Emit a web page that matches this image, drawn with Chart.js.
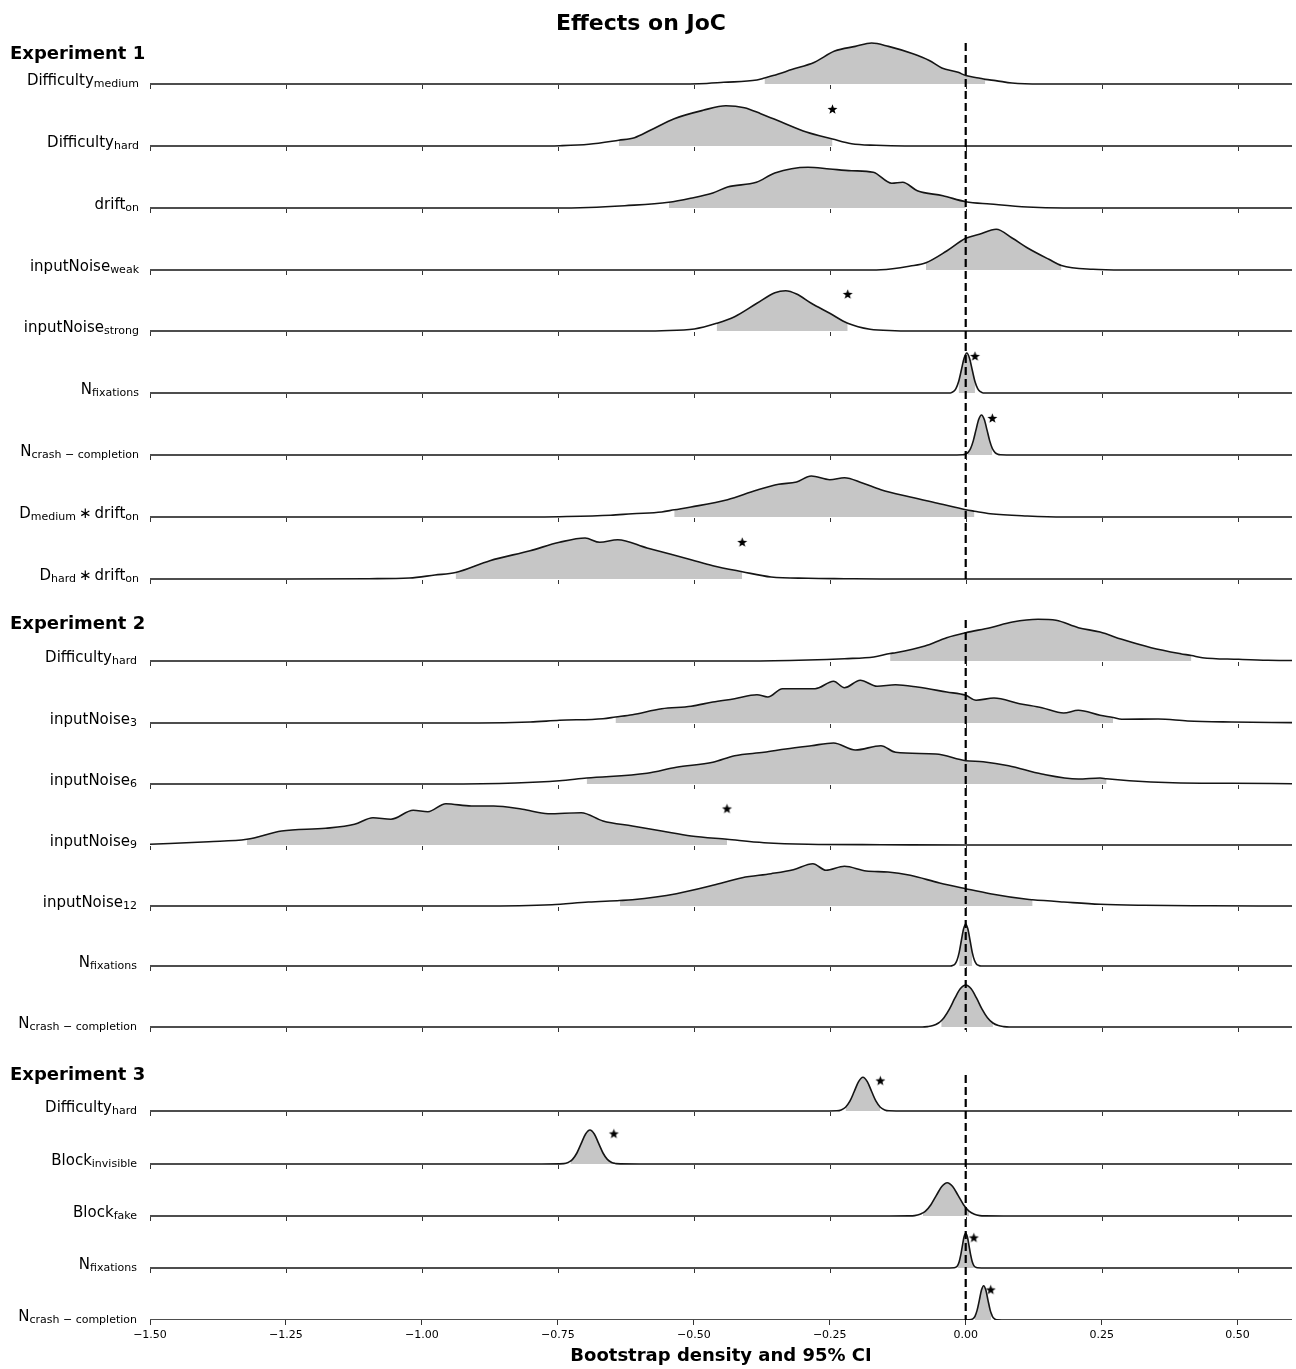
<!DOCTYPE html>
<html>
<head>
<meta charset="utf-8">
<script src="https://cdn.jsdelivr.net/npm/chart.js@4.4.1/dist/chart.umd.min.js"></script>
<style>
    html, body { margin: 0; padding: 0; background: #fff; }
    #wrap { width: 1296px; height: 1369px; position: relative; }
</style>
</head>
<body>
<div id="wrap"><canvas id="ridge"></canvas></div>
<script>
// x axis ticks
const xTicks = [-1.5, -1.25, -1.0, -0.75, -0.5, -0.25, 0.0, 0.25, 0.5];

// row labels: even parts normal text, odd parts subscript
const rowLabels = [
    ['Difficulty', 'medium'], ['Difficulty', 'hard'], ['drift', 'on'],
    ['inputNoise', 'weak'], ['inputNoise', 'strong'], ['N', 'fixations'],
    ['N', 'crash \u2212 completion'], ['D', 'medium', '\u2009\u2217\u2009drift', 'on'], ['D', 'hard', '\u2009\u2217\u2009drift', 'on'],
    ['Difficulty', 'hard'], ['inputNoise', '3'], ['inputNoise', '6'], ['inputNoise', '9'],
    ['inputNoise', '12'], ['N', 'fixations'], ['N', 'crash \u2212 completion'],
    ['Difficulty', 'hard'], ['Block', 'invisible'], ['Block', 'fake'], ['N', 'fixations'],
    ['N', 'crash \u2212 completion']
];
const experiments = ['Experiment 1', 'Experiment 2', 'Experiment 3'];
const rowsPerExperiment = [9, 7, 5];

// bootstrap density, [effect, density]
const dens1DiffMedium = [[-0.58,0],[-0.49,0.3],[-0.445,1.7],[-0.384,4],[-0.370,6],[-0.354,8.4],[-0.32,14.4],[-0.278,21.8],[-0.241,32.9],[-0.203,37.6],[-0.173,41],[-0.142,37.6],[-0.097,30.2],[-0.067,23.5],[-0.044,16.1],[-0.014,11.7],[0,8.4],[0.024,6],[0.036,4.6],[0.055,3.4],[0.085,1],[0.138,0]];
const dens1DiffHard = [[-0.80,0],[-0.746,0.3],[-0.693,1.7],[-0.638,5.8],[-0.609,8.3],[-0.58,15.7],[-0.536,27.3],[-0.483,35.7],[-0.441,40.3],[-0.407,38.3],[-0.377,32.3],[-0.339,24],[-0.293,14],[-0.245,7],[-0.21,2.3],[-0.165,0.7],[-0.112,0]];
const dens1Drift = [[-0.76,0],[-0.694,0.5],[-0.627,2.3],[-0.546,5.7],[-0.506,9.7],[-0.465,15],[-0.438,21],[-0.385,25.7],[-0.351,35],[-0.29,40.7],[-0.25,39],[-0.21,37.3],[-0.17,35.7],[-0.136,24.7],[-0.116,25.7],[-0.089,17.3],[-0.042,12.3],[0,6.3],[0.045,4],[0.113,1],[0.18,0]];
const dens1NoiseWeak = [[-0.2,0],[-0.156,0.3],[-0.102,4],[-0.073,7.3],[-0.035,19],[0,31.7],[0.025,35.7],[0.056,40.7],[0.086,31.7],[0.113,22.3],[0.153,10.7],[0.176,4.6],[0.234,0.7],[0.29,0]];
const dens1NoiseStrong = [[-0.62,0],[-0.559,0.3],[-0.499,2],[-0.458,7.7],[-0.425,14.3],[-0.384,27.7],[-0.351,38.3],[-0.331,40.3],[-0.311,37],[-0.284,27.7],[-0.25,17.7],[-0.217,7.7],[-0.176,1.7],[-0.13,0.3],[-0.076,0]];
const dens1Fix = [[-0.05,0],[-0.028,0],[-0.023,1.3],[-0.018,4.4],[-0.013,11.5],[-0.008,23],[-0.003,34.8],[0.002,40],[0.007,34.8],[0.012,23],[0.017,11.5],[0.022,4.4],[0.027,1.3],[0.032,0],[0.05,0]];
const dens1Crash = [[-0.03,0],[-0.006,0.2],[-0.001,0.7],[0.004,2.4],[0.009,6.5],[0.014,14.4],[0.019,25.4],[0.024,35.7],[0.029,40],[0.034,35.7],[0.039,25.4],[0.044,14.4],[0.049,6.5],[0.054,2.4],[0.059,0.7],[0.064,0.2],[0.09,0]];
const dens1MedDrift = [[-0.80,0],[-0.747,0.3],[-0.653,1.7],[-0.613,3.3],[-0.559,5],[-0.536,7.2],[-0.505,10],[-0.438,17.3],[-0.385,26.7],[-0.344,32.7],[-0.311,35],[-0.284,41],[-0.25,37.3],[-0.223,39.3],[-0.19,34],[-0.156,27.3],[-0.102,20],[-0.048,13.3],[0,7.3],[0.016,5.8],[0.045,3.3],[0.113,1],[0.18,0]];
const dens1HardDrift = [[-1.26,0],[-1.097,0.3],[-1.023,1],[-0.976,4],[-0.938,6.5],[-0.875,18.3],[-0.801,28.3],[-0.747,36.7],[-0.70,41],[-0.673,36.7],[-0.64,39.3],[-0.586,31],[-0.505,19.3],[-0.465,13.3],[-0.411,7.3],[-0.358,2],[-0.29,0.7],[-0.223,0.3],[-0.156,0]];
const dens2DiffHard = [[-0.40,0],[-0.29,1],[-0.223,2.3],[-0.169,4],[-0.139,7.5],[-0.129,8.3],[-0.075,15],[-0.035,23.3],[0,28.3],[0.045,33.3],[0.086,39],[0.133,41.7],[0.166,40.7],[0.207,33.3],[0.247,29],[0.287,21.7],[0.341,13.3],[0.395,7.3],[0.415,5.5],[0.435,3.3],[0.502,1.7],[0.556,0.7],[0.6,0.5]];
const dens2Noise3 = [[-0.895,0],[-0.801,1],[-0.747,2.7],[-0.667,4.3],[-0.644,6],[-0.613,8.3],[-0.559,14.3],[-0.505,16.7],[-0.465,21],[-0.425,24.3],[-0.384,28.3],[-0.364,26],[-0.337,34.3],[-0.277,34.3],[-0.243,41.7],[-0.223,35.3],[-0.194,42.7],[-0.163,36.7],[-0.129,38.3],[-0.089,36],[-0.035,31],[0,27.7],[0.019,22.7],[0.052,25],[0.099,19.3],[0.14,15.3],[0.18,10],[0.207,12.7],[0.247,7.7],[0.271,5.5],[0.287,3.7],[0.354,4],[0.408,2],[0.489,1],[0.6,0.4]];
const dens2Noise6 = [[-0.962,0],[-0.828,1],[-0.747,3.3],[-0.697,6],[-0.586,10.7],[-0.532,16.7],[-0.465,21.7],[-0.425,28.3],[-0.371,31.7],[-0.331,35],[-0.284,38.3],[-0.243,41],[-0.203,34],[-0.156,38.3],[-0.129,31.7],[-0.055,30],[0,23.3],[0.032,22.3],[0.079,18.3],[0.14,10],[0.207,5],[0.247,6],[0.259,5.2],[0.301,3.3],[0.381,1.3],[0.489,0.7],[0.6,0.3]];
const dens2Noise9 = [[-1.5,0.7],[-1.392,3.3],[-1.322,5.7],[-1.258,14],[-1.177,16.7],[-1.124,20.7],[-1.09,27.3],[-1.057,25.7],[-1.016,34.7],[-0.989,33.3],[-0.956,41.3],[-0.909,39],[-0.868,39],[-0.815,35.7],[-0.768,31.3],[-0.707,32.3],[-0.667,24],[-0.613,19],[-0.559,14],[-0.505,9],[-0.439,5.7],[-0.371,2.3],[-0.29,0.7],[-0.156,0.3],[0,0]];
const dens2Noise12 = [[-0.895,0],[-0.761,1.3],[-0.694,4],[-0.636,5.5],[-0.613,6.3],[-0.532,12.3],[-0.465,20.7],[-0.411,28.3],[-0.358,32.3],[-0.317,36.3],[-0.281,42.3],[-0.257,35.7],[-0.223,39.7],[-0.183,35],[-0.143,34],[-0.102,30.7],[-0.048,23],[0,17.3],[0.045,12.3],[0.113,6.7],[0.123,6.2],[0.18,4],[0.247,1.7],[0.328,0.7],[0.45,0.2],[0.55,0]];
const dens2Fix = [[-0.05,0],[-0.028,0],[-0.024,0.5],[-0.02,1.8],[-0.016,5.7],[-0.012,13.6],[-0.008,25.5],[-0.004,37],[0,42],[0.004,37],[0.008,25.5],[0.012,13.6],[0.016,5.7],[0.02,1.8],[0.024,0.5],[0.028,0],[0.05,0]];
const dens2Crash = [[-0.1,0],[-0.08,0],[-0.07,0.4],[-0.06,1.4],[-0.05,4],[-0.045,6.2],[-0.04,9.3],[-0.03,17.9],[-0.02,28.8],[-0.01,38.2],[0,42],[0.01,38.2],[0.02,28.8],[0.03,17.9],[0.04,9.3],[0.05,4],[0.06,1.4],[0.07,0.4],[0.08,0],[0.1,0]];
const dens3DiffHard = [[-0.27,0],[-0.237,0.2],[-0.229,1.1],[-0.221,3.8],[-0.213,9.8],[-0.205,19.5],[-0.197,29.4],[-0.189,33.7],[-0.181,29.4],[-0.173,19.5],[-0.165,9.8],[-0.157,3.8],[-0.149,1.1],[-0.141,0.2],[-0.11,0]];
const dens3BlockInvisible = [[-0.78,0],[-0.739,0.4],[-0.731,1.5],[-0.727,2.8],[-0.723,4.6],[-0.715,11],[-0.707,20.6],[-0.699,30],[-0.691,34],[-0.683,30],[-0.675,20.6],[-0.667,11],[-0.659,4.6],[-0.651,1.5],[-0.647,0.9],[-0.643,0.4],[-0.6,0]];
const dens3BlockFake = [[-0.14,0],[-0.104,0.1],[-0.094,0.4],[-0.084,1.7],[-0.079,3.1],[-0.074,4.9],[-0.064,11.3],[-0.054,20.6],[-0.044,29.5],[-0.034,33.3],[-0.024,29.5],[-0.014,20.6],[-0.004,11.3],[0.006,4.9],[0.016,1.7],[0.026,0.4],[0.036,0.1],[0.07,0]];
const dens3Fix = [[-0.04,0],[-0.021,0.2],[-0.018,0.8],[-0.015,2.4],[-0.012,6.3],[-0.009,13.3],[-0.006,22.7],[-0.003,31.2],[0,34.7],[0.003,31.2],[0.006,22.7],[0.009,13.3],[0.012,6.3],[0.015,2.4],[0.018,0.8],[0.021,0.2],[0.04,0]];
const dens3Crash = [[-0.01,0],[0.005,0.2],[0.013,1.1],[0.017,3.7],[0.021,9.9],[0.025,19.7],[0.029,29.9],[0.033,34.3],[0.037,29.9],[0.041,19.7],[0.045,9.9],[0.047,6.6],[0.049,3.7],[0.053,1.1],[0.057,0.2],[0.08,0]];

const densities = [
    dens1DiffMedium, dens1DiffHard, dens1Drift, dens1NoiseWeak, dens1NoiseStrong, dens1Fix, dens1Crash, dens1MedDrift, dens1HardDrift,
    dens2DiffHard, dens2Noise3, dens2Noise6, dens2Noise9, dens2Noise12, dens2Fix, dens2Crash,
    dens3DiffHard, dens3BlockInvisible, dens3BlockFake, dens3Fix, dens3Crash
];

// 95% CI bounds per row
const ciLow = [-0.370, -0.638, -0.546, -0.073, -0.458, -0.013, 0.004, -0.536, -0.938,
    -0.139, -0.644, -0.697, -1.322, -0.636, -0.012, -0.045,
    -0.221, -0.727, -0.079, -0.015, 0.017];
const ciHigh = [0.036, -0.245, 0, 0.176, -0.217, 0.017, 0.049, 0.016, -0.411,
    0.415, 0.271, 0.259, -0.439, 0.123, 0.012, 0.05,
    -0.157, -0.647, 0.006, 0.015, 0.047];
// significance stars (effect value), null = none
const starAt = [null, -0.245, null, null, -0.217, 0.017, 0.049, null, -0.411,
    null, null, null, -0.439, null, null, null,
    -0.157, -0.647, null, 0.015, 0.046];

// ---- layout (pixels) ----
const AREA_BOTTOM = 1320;
const rowBasePx = [84, 146, 208, 270, 331, 393, 455, 517, 579,
    661, 723, 784, 845, 906, 966, 1027,
    1111, 1164, 1216, 1268, 1320];
const labelRight = [139, 137, 137];
const headerBaseline = [59, 629, 1080];
const zeroLineSpan = [[43, 582], [620, 1030], [1075, 1320]];
const starLift = [36.5, 36, 30];

const FONT = '"DejaVu Sans", sans-serif';
const toY = px => AREA_BOTTOM - px;

function expOfRow(i) {
    let acc = 0;
    for (let e = 0; e < rowsPerExperiment.length; e++) {
        acc += rowsPerExperiment[e];
        if (i < acc) return e;
    }
    return rowsPerExperiment.length - 1;
}

// filled five point star for the marker
function makeStar(r) {
    const c = document.createElement('canvas');
    const s = Math.ceil(r * 2 + 2);
    c.width = s; c.height = s;
    const g = c.getContext('2d');
    g.fillStyle = '#000';
    g.beginPath();
    for (let k = 0; k < 10; k++) {
        const rr = k % 2 ? r * 0.42 : r;
        const a = -Math.PI / 2 + k * Math.PI / 5;
        const px = s / 2 + rr * Math.cos(a), py = s / 2 + rr * Math.sin(a);
        k ? g.lineTo(px, py) : g.moveTo(px, py);
    }
    g.closePath();
    g.fill();
    return c;
}
const starImg = makeStar(5.2);

const datasets = [];
densities.forEach((pts, i) => {
    const base = toY(rowBasePx[i]);
    let full = pts.slice();
    if (full[0][0] > -1.5) full.unshift([-1.5, 0]);
    if (full[full.length - 1][0] < 0.6) full.push([0.6, 0]);
    // grey CI area
    datasets.push({
        data: pts.filter(p => p[0] >= ciLow[i] - 1e-9 && p[0] <= ciHigh[i] + 1e-9).map(p => ({x: p[0], y: base + p[1]})),
        borderWidth: 0,
        backgroundColor: '#c6c6c6',
        fill: {value: base},
        pointRadius: 0,
        cubicInterpolationMode: 'monotone',
        order: 3
    });
    // density outline
    datasets.push({
        data: full.map(p => ({x: p[0], y: base + p[1]})),
        borderColor: '#151515',
        borderWidth: 1.6,
        fill: false,
        pointRadius: 0,
        cubicInterpolationMode: 'monotone',
        order: 2
    });
    if (starAt[i] !== null) {
        datasets.push({
            data: [{x: starAt[i], y: base + starLift[expOfRow(i)]}],
            showLine: false,
            pointStyle: starImg,
            pointRadius: 5,
            order: 0
        });
    }
});
// dashed zero line per experiment
zeroLineSpan.forEach(sp => {
    datasets.push({
        data: [{x: 0, y: toY(sp[0])}, {x: 0, y: toY(sp[1])}],
        borderColor: '#000',
        borderWidth: 2.2,
        borderDash: [8, 4],
        pointRadius: 0,
        fill: false,
        order: 1
    });
});

const decor = {
    id: 'decor',
    afterDraw(chart) {
        const ctx = chart.ctx;
        const xs = chart.scales.x;
        ctx.save();
        ctx.fillStyle = '#000';
        ctx.textBaseline = 'alphabetic';
        // title
        ctx.font = 'bold 22px ' + FONT;
        ctx.textAlign = 'center';
        ctx.fillText('Effects on JoC', 641, 30);
        // experiment headers
        ctx.textAlign = 'left';
        ctx.font = 'bold 18px ' + FONT;
        experiments.forEach((t, e) => ctx.fillText(t, 10, headerBaseline[e]));
        // row labels
        rowLabels.forEach((parts, i) => {
            const y = rowBasePx[i];
            let w = 0;
            parts.forEach((p, k) => {
                ctx.font = (k % 2 ? '11px ' : '15px ') + FONT;
                w += ctx.measureText(p).width;
            });
            let x = labelRight[expOfRow(i)] - w;
            parts.forEach((p, k) => {
                ctx.font = (k % 2 ? '11px ' : '15px ') + FONT;
                ctx.fillText(p, x, k % 2 ? y + 3 : y + 0.5);
                x += ctx.measureText(p).width;
            });
        });
        // small ticks under every row baseline
        ctx.strokeStyle = '#333';
        ctx.lineWidth = 1;
        rowBasePx.forEach((py, i) => {
            if (i === rowBasePx.length - 1) return;
            xTicks.forEach(v => {
                const px = Math.round(xs.getPixelForValue(v)) + 0.5;
                ctx.beginPath();
                ctx.moveTo(px, py + 1);
                ctx.lineTo(px, py + 5);
                ctx.stroke();
            });
        });
        ctx.restore();
    }
};

new Chart(document.getElementById('ridge'), {
    type: 'line',
    data: {datasets: datasets},
    options: {
        responsive: true,
        maintainAspectRatio: false,
        animation: false,
        devicePixelRatio: 1,
        layout: {autoPadding: false, padding: {left: 150, right: 4, top: 0, bottom: 0}},
        plugins: {legend: {display: false}, tooltip: {enabled: false}},
        scales: {
            x: {
                type: 'linear',
                min: -1.5,
                max: 0.6,
                afterBuildTicks: s => { s.ticks = xTicks.map(v => ({value: v})); },
                afterFit: s => { s.height = 49; },
                ticks: {
                    autoSkip: false,
                    maxRotation: 0,
                    padding: 4,
                    color: '#000',
                    font: {family: FONT, size: 11},
                    callback: v => (v < 0 ? '\u2212' : '') + Math.abs(v).toFixed(2)
                },
                grid: {display: true, drawOnChartArea: false, drawTicks: true, tickLength: 5, color: '#333'},
                border: {display: false},
                title: {
                    display: true,
                    text: 'Bootstrap density and 95% CI',
                    color: '#000',
                    font: {family: FONT, size: 18, weight: 'bold'},
                    padding: {top: 2, bottom: 2}
                }
            },
            y: {type: 'linear', min: 0, max: AREA_BOTTOM, display: false}
        }
    },
    plugins: [decor]
});
</script>
</body>
</html>
